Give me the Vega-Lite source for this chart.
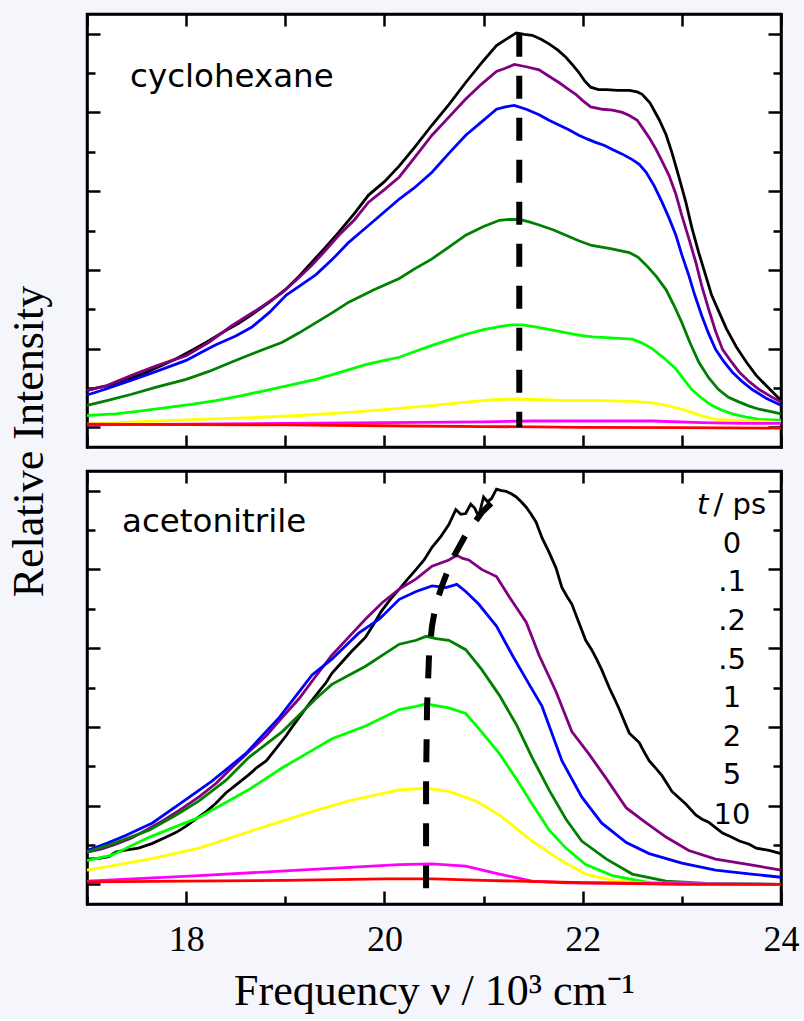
{
  "$schema": "https://vega.github.io/schema/vega-lite/v6.json",
  "background": "#f5f6fc",
  "padding": {"left": 5, "top": 11, "right": 21, "bottom": 4},
  "bounds": "flush",
  "spacing": 24,
  "config": {
    "view": {"stroke": "black", "strokeWidth": 2.5, "fill": "white"},
    "axis": {"domainColor": "black", "domainWidth": 2.5, "domainCap": "square", "tickColor": "black", "tickWidth": 2.5, "grid": false, "labelFont": "Liberation Serif", "labelColor": "black", "titleFont": "Liberation Serif", "titleColor": "black", "titleFontWeight": "normal", "labelOverlap": false, "labelFlush": false}
  },
  "datasets": {
    "cyc": [
      {"t":"0","x":17.0,"y":0.47},{"t":"0","x":17.1,"y":0.5},{"t":"0","x":17.22,"y":0.53},{"t":"0","x":17.33,"y":0.58},{"t":"0","x":17.45,"y":0.63},{"t":"0","x":17.6,"y":0.7},{"t":"0","x":17.76,"y":0.79},{"t":"0","x":17.9,"y":0.87},{"t":"0","x":18.06,"y":0.98},{"t":"0","x":18.23,"y":1.1},{"t":"0","x":18.4,"y":1.23},{"t":"0","x":18.53,"y":1.32},{"t":"0","x":18.66,"y":1.43},{"t":"0","x":18.83,"y":1.58},{"t":"0","x":19.01,"y":1.76},{"t":"0","x":19.14,"y":1.92},{"t":"0","x":19.27,"y":2.1},{"t":"0","x":19.4,"y":2.28},{"t":"0","x":19.54,"y":2.48},{"t":"0","x":19.7,"y":2.72},{"t":"0","x":19.84,"y":2.95},{"t":"0","x":20.0,"y":3.12},{"t":"0","x":20.15,"y":3.32},{"t":"0","x":20.3,"y":3.55},{"t":"0","x":20.48,"y":3.84},{"t":"0","x":20.65,"y":4.1},{"t":"0","x":20.82,"y":4.38},{"t":"0","x":20.98,"y":4.63},{"t":"0","x":21.13,"y":4.85},{"t":"0","x":21.23,"y":4.93},{"t":"0","x":21.33,"y":5.01},{"t":"0","x":21.41,"y":4.99},{"t":"0","x":21.49,"y":4.98},{"t":"0","x":21.58,"y":4.93},{"t":"0","x":21.66,"y":4.87},{"t":"0","x":21.75,"y":4.79},{"t":"0","x":21.83,"y":4.7},{"t":"0","x":21.9,"y":4.6},{"t":"0","x":21.96,"y":4.51},{"t":"0","x":22.02,"y":4.4},{"t":"0","x":22.08,"y":4.32},{"t":"0","x":22.16,"y":4.29},{"t":"0","x":22.24,"y":4.29},{"t":"0","x":22.35,"y":4.28},{"t":"0","x":22.47,"y":4.28},{"t":"0","x":22.55,"y":4.26},{"t":"0","x":22.6,"y":4.23},{"t":"0","x":22.68,"y":4.12},{"t":"0","x":22.77,"y":3.91},{"t":"0","x":22.84,"y":3.72},{"t":"0","x":22.9,"y":3.49},{"t":"0","x":22.97,"y":3.18},{"t":"0","x":23.04,"y":2.86},{"t":"0","x":23.1,"y":2.54},{"t":"0","x":23.17,"y":2.22},{"t":"0","x":23.24,"y":1.93},{"t":"0","x":23.3,"y":1.68},{"t":"0","x":23.38,"y":1.45},{"t":"0","x":23.45,"y":1.25},{"t":"0","x":23.55,"y":1.02},{"t":"0","x":23.65,"y":0.83},{"t":"0","x":23.75,"y":0.66},{"t":"0","x":23.85,"y":0.53},{"t":"0","x":23.93,"y":0.43},{"t":"0","x":24.0,"y":0.34},
      {"t":".1","x":17.0,"y":0.47},{"t":".1","x":17.2,"y":0.53},{"t":".1","x":17.45,"y":0.66},{"t":".1","x":17.7,"y":0.78},{"t":".1","x":18.0,"y":0.91},{"t":".1","x":18.23,"y":1.08},{"t":".1","x":18.46,"y":1.29},{"t":".1","x":18.7,"y":1.48},{"t":".1","x":18.97,"y":1.71},{"t":".1","x":19.12,"y":1.88},{"t":".1","x":19.27,"y":2.06},{"t":".1","x":19.4,"y":2.24},{"t":".1","x":19.54,"y":2.44},{"t":".1","x":19.7,"y":2.64},{"t":".1","x":19.84,"y":2.86},{"t":".1","x":20.0,"y":3.02},{"t":".1","x":20.15,"y":3.18},{"t":".1","x":20.3,"y":3.42},{"t":".1","x":20.48,"y":3.71},{"t":".1","x":20.65,"y":3.94},{"t":".1","x":20.82,"y":4.17},{"t":".1","x":20.98,"y":4.36},{"t":".1","x":21.13,"y":4.52},{"t":".1","x":21.22,"y":4.56},{"t":".1","x":21.31,"y":4.61},{"t":".1","x":21.43,"y":4.58},{"t":".1","x":21.56,"y":4.54},{"t":".1","x":21.66,"y":4.46},{"t":".1","x":21.76,"y":4.38},{"t":".1","x":21.85,"y":4.3},{"t":".1","x":21.93,"y":4.23},{"t":".1","x":22.0,"y":4.15},{"t":".1","x":22.08,"y":4.07},{"t":".1","x":22.2,"y":4.04},{"t":".1","x":22.3,"y":4.03},{"t":".1","x":22.4,"y":4.0},{"t":".1","x":22.47,"y":3.96},{"t":".1","x":22.55,"y":3.9},{"t":".1","x":22.6,"y":3.81},{"t":".1","x":22.67,"y":3.68},{"t":".1","x":22.74,"y":3.53},{"t":".1","x":22.8,"y":3.38},{"t":".1","x":22.87,"y":3.2},{"t":".1","x":22.94,"y":2.96},{"t":".1","x":23.0,"y":2.69},{"t":".1","x":23.07,"y":2.4},{"t":".1","x":23.14,"y":2.1},{"t":".1","x":23.2,"y":1.8},{"t":".1","x":23.27,"y":1.5},{"t":".1","x":23.34,"y":1.22},{"t":".1","x":23.41,"y":0.99},{"t":".1","x":23.5,"y":0.83},{"t":".1","x":23.58,"y":0.7},{"t":".1","x":23.68,"y":0.58},{"t":".1","x":23.78,"y":0.48},{"t":".1","x":23.9,"y":0.39},{"t":".1","x":24.0,"y":0.32},
      {"t":".2","x":17.0,"y":0.41},{"t":".2","x":17.2,"y":0.49},{"t":".2","x":17.45,"y":0.6},{"t":".2","x":17.7,"y":0.71},{"t":".2","x":18.0,"y":0.85},{"t":".2","x":18.15,"y":0.95},{"t":".2","x":18.3,"y":1.05},{"t":".2","x":18.5,"y":1.16},{"t":".2","x":18.66,"y":1.27},{"t":".2","x":18.84,"y":1.46},{"t":".2","x":19.01,"y":1.68},{"t":".2","x":19.15,"y":1.8},{"t":".2","x":19.31,"y":1.94},{"t":".2","x":19.48,"y":2.14},{"t":".2","x":19.64,"y":2.35},{"t":".2","x":19.78,"y":2.5},{"t":".2","x":19.91,"y":2.64},{"t":".2","x":20.03,"y":2.77},{"t":".2","x":20.15,"y":2.9},{"t":".2","x":20.3,"y":3.04},{"t":".2","x":20.48,"y":3.24},{"t":".2","x":20.65,"y":3.48},{"t":".2","x":20.82,"y":3.71},{"t":".2","x":20.98,"y":3.88},{"t":".2","x":21.13,"y":4.04},{"t":".2","x":21.22,"y":4.07},{"t":".2","x":21.31,"y":4.09},{"t":".2","x":21.43,"y":4.04},{"t":".2","x":21.56,"y":3.97},{"t":".2","x":21.66,"y":3.9},{"t":".2","x":21.76,"y":3.84},{"t":".2","x":21.86,"y":3.78},{"t":".2","x":21.96,"y":3.71},{"t":".2","x":22.05,"y":3.66},{"t":".2","x":22.13,"y":3.62},{"t":".2","x":22.22,"y":3.58},{"t":".2","x":22.3,"y":3.53},{"t":".2","x":22.4,"y":3.47},{"t":".2","x":22.5,"y":3.4},{"t":".2","x":22.57,"y":3.34},{"t":".2","x":22.64,"y":3.24},{"t":".2","x":22.72,"y":3.07},{"t":".2","x":22.8,"y":2.86},{"t":".2","x":22.87,"y":2.66},{"t":".2","x":22.94,"y":2.44},{"t":".2","x":23.0,"y":2.19},{"t":".2","x":23.07,"y":1.93},{"t":".2","x":23.13,"y":1.68},{"t":".2","x":23.2,"y":1.42},{"t":".2","x":23.27,"y":1.19},{"t":".2","x":23.34,"y":0.99},{"t":".2","x":23.42,"y":0.84},{"t":".2","x":23.51,"y":0.7},{"t":".2","x":23.6,"y":0.59},{"t":".2","x":23.71,"y":0.48},{"t":".2","x":23.85,"y":0.37},{"t":".2","x":24.0,"y":0.28},
      {"t":".5","x":17.0,"y":0.28},{"t":".5","x":17.2,"y":0.34},{"t":".5","x":17.45,"y":0.42},{"t":".5","x":17.7,"y":0.51},{"t":".5","x":18.0,"y":0.61},{"t":".5","x":18.23,"y":0.71},{"t":".5","x":18.46,"y":0.83},{"t":".5","x":18.7,"y":0.95},{"t":".5","x":18.97,"y":1.08},{"t":".5","x":19.14,"y":1.2},{"t":".5","x":19.31,"y":1.33},{"t":".5","x":19.48,"y":1.46},{"t":".5","x":19.64,"y":1.59},{"t":".5","x":19.9,"y":1.75},{"t":".5","x":20.15,"y":1.89},{"t":".5","x":20.3,"y":2.01},{"t":".5","x":20.48,"y":2.14},{"t":".5","x":20.65,"y":2.29},{"t":".5","x":20.82,"y":2.44},{"t":".5","x":21.0,"y":2.55},{"t":".5","x":21.16,"y":2.63},{"t":".5","x":21.26,"y":2.64},{"t":".5","x":21.36,"y":2.64},{"t":".5","x":21.46,"y":2.61},{"t":".5","x":21.56,"y":2.57},{"t":".5","x":21.7,"y":2.51},{"t":".5","x":21.83,"y":2.44},{"t":".5","x":21.96,"y":2.37},{"t":".5","x":22.09,"y":2.31},{"t":".5","x":22.28,"y":2.27},{"t":".5","x":22.47,"y":2.22},{"t":".5","x":22.56,"y":2.16},{"t":".5","x":22.64,"y":2.06},{"t":".5","x":22.74,"y":1.92},{"t":".5","x":22.84,"y":1.75},{"t":".5","x":22.92,"y":1.55},{"t":".5","x":23.0,"y":1.33},{"t":".5","x":23.08,"y":1.08},{"t":".5","x":23.17,"y":0.83},{"t":".5","x":23.27,"y":0.63},{"t":".5","x":23.37,"y":0.48},{"t":".5","x":23.47,"y":0.38},{"t":".5","x":23.58,"y":0.32},{"t":".5","x":23.68,"y":0.27},{"t":".5","x":23.78,"y":0.23},{"t":".5","x":23.9,"y":0.2},{"t":".5","x":24.0,"y":0.17},
      {"t":"1","x":17.0,"y":0.15},{"t":"1","x":17.15,"y":0.16},{"t":"1","x":17.29,"y":0.17},{"t":"1","x":17.55,"y":0.21},{"t":"1","x":17.8,"y":0.25},{"t":"1","x":18.05,"y":0.29},{"t":"1","x":18.3,"y":0.34},{"t":"1","x":18.55,"y":0.4},{"t":"1","x":18.81,"y":0.47},{"t":"1","x":19.06,"y":0.54},{"t":"1","x":19.31,"y":0.61},{"t":"1","x":19.56,"y":0.7},{"t":"1","x":19.82,"y":0.8},{"t":"1","x":20.0,"y":0.85},{"t":"1","x":20.15,"y":0.89},{"t":"1","x":20.3,"y":0.96},{"t":"1","x":20.48,"y":1.04},{"t":"1","x":20.65,"y":1.11},{"t":"1","x":20.82,"y":1.18},{"t":"1","x":21.0,"y":1.24},{"t":"1","x":21.16,"y":1.28},{"t":"1","x":21.28,"y":1.3},{"t":"1","x":21.39,"y":1.3},{"t":"1","x":21.51,"y":1.28},{"t":"1","x":21.63,"y":1.25},{"t":"1","x":21.8,"y":1.21},{"t":"1","x":21.96,"y":1.17},{"t":"1","x":22.1,"y":1.15},{"t":"1","x":22.24,"y":1.14},{"t":"1","x":22.37,"y":1.13},{"t":"1","x":22.5,"y":1.12},{"t":"1","x":22.6,"y":1.07},{"t":"1","x":22.7,"y":1.0},{"t":"1","x":22.82,"y":0.88},{"t":"1","x":22.94,"y":0.74},{"t":"1","x":23.02,"y":0.61},{"t":"1","x":23.1,"y":0.48},{"t":"1","x":23.2,"y":0.37},{"t":"1","x":23.3,"y":0.28},{"t":"1","x":23.4,"y":0.22},{"t":"1","x":23.51,"y":0.17},{"t":"1","x":23.65,"y":0.13},{"t":"1","x":23.78,"y":0.1},{"t":"1","x":24.0,"y":0.09},
      {"t":"2","x":17.0,"y":0.04},{"t":"2","x":17.5,"y":0.07},{"t":"2","x":18.13,"y":0.1},{"t":"2","x":18.6,"y":0.12},{"t":"2","x":19.14,"y":0.15},{"t":"2","x":19.65,"y":0.19},{"t":"2","x":20.15,"y":0.24},{"t":"2","x":20.5,"y":0.28},{"t":"2","x":20.82,"y":0.32},{"t":"2","x":21.1,"y":0.35},{"t":"2","x":21.33,"y":0.36},{"t":"2","x":21.6,"y":0.35},{"t":"2","x":21.83,"y":0.34},{"t":"2","x":22.2,"y":0.34},{"t":"2","x":22.5,"y":0.33},{"t":"2","x":22.7,"y":0.31},{"t":"2","x":22.84,"y":0.28},{"t":"2","x":22.97,"y":0.24},{"t":"2","x":23.1,"y":0.19},{"t":"2","x":23.22,"y":0.14},{"t":"2","x":23.34,"y":0.1},{"t":"2","x":23.5,"y":0.09},{"t":"2","x":23.68,"y":0.08},{"t":"2","x":24.0,"y":0.06},
      {"t":"5","x":17.0,"y":0.03},{"t":"5","x":18.0,"y":0.04},{"t":"5","x":19.0,"y":0.05},{"t":"5","x":20.0,"y":0.06},{"t":"5","x":21.0,"y":0.07},{"t":"5","x":21.5,"y":0.08},{"t":"5","x":22.0,"y":0.08},{"t":"5","x":22.7,"y":0.08},{"t":"5","x":23.2,"y":0.06},{"t":"5","x":23.6,"y":0.05},{"t":"5","x":24.0,"y":0.05},
      {"t":"10","x":17.0,"y":0.04},{"t":"10","x":18.0,"y":0.035},{"t":"10","x":19.0,"y":0.03},{"t":"10","x":20.0,"y":0.02},{"t":"10","x":21.0,"y":0.01},{"t":"10","x":22.0,"y":0.0},{"t":"10","x":23.0,"y":-0.005},{"t":"10","x":24.0,"y":-0.01}
    ],
    "acn": [
      {"t":"0","x":17.0,"y":0.32},{"t":"0","x":17.12,"y":0.33},{"t":"0","x":17.22,"y":0.35},{"t":"0","x":17.29,"y":0.41},{"t":"0","x":17.37,"y":0.43},{"t":"0","x":17.52,"y":0.46},{"t":"0","x":17.66,"y":0.52},{"t":"0","x":17.8,"y":0.6},{"t":"0","x":17.9,"y":0.66},{"t":"0","x":18.0,"y":0.74},{"t":"0","x":18.1,"y":0.83},{"t":"0","x":18.2,"y":0.92},{"t":"0","x":18.3,"y":1.03},{"t":"0","x":18.4,"y":1.16},{"t":"0","x":18.51,"y":1.27},{"t":"0","x":18.63,"y":1.39},{"t":"0","x":18.71,"y":1.48},{"t":"0","x":18.81,"y":1.57},{"t":"0","x":18.91,"y":1.73},{"t":"0","x":19.01,"y":1.89},{"t":"0","x":19.07,"y":2.0},{"t":"0","x":19.14,"y":2.12},{"t":"0","x":19.24,"y":2.29},{"t":"0","x":19.34,"y":2.45},{"t":"0","x":19.41,"y":2.56},{"t":"0","x":19.47,"y":2.68},{"t":"0","x":19.57,"y":2.82},{"t":"0","x":19.67,"y":2.96},{"t":"0","x":19.74,"y":3.05},{"t":"0","x":19.81,"y":3.14},{"t":"0","x":19.89,"y":3.3},{"t":"0","x":19.97,"y":3.47},{"t":"0","x":20.06,"y":3.62},{"t":"0","x":20.15,"y":3.75},{"t":"0","x":20.23,"y":3.87},{"t":"0","x":20.32,"y":4.0},{"t":"0","x":20.4,"y":4.12},{"t":"0","x":20.48,"y":4.28},{"t":"0","x":20.57,"y":4.42},{"t":"0","x":20.65,"y":4.57},{"t":"0","x":20.72,"y":4.76},{"t":"0","x":20.77,"y":4.7},{"t":"0","x":20.82,"y":4.71},{"t":"0","x":20.87,"y":4.83},{"t":"0","x":20.91,"y":4.78},{"t":"0","x":20.95,"y":4.67},{"t":"0","x":21.0,"y":4.92},{"t":"0","x":21.04,"y":4.86},{"t":"0","x":21.08,"y":4.9},{"t":"0","x":21.13,"y":5.02},{"t":"0","x":21.18,"y":5.0},{"t":"0","x":21.23,"y":4.99},{"t":"0","x":21.28,"y":4.96},{"t":"0","x":21.33,"y":4.92},{"t":"0","x":21.38,"y":4.86},{"t":"0","x":21.43,"y":4.79},{"t":"0","x":21.48,"y":4.7},{"t":"0","x":21.53,"y":4.6},{"t":"0","x":21.59,"y":4.4},{"t":"0","x":21.66,"y":4.22},{"t":"0","x":21.73,"y":4.02},{"t":"0","x":21.79,"y":3.77},{"t":"0","x":21.84,"y":3.66},{"t":"0","x":21.89,"y":3.56},{"t":"0","x":21.96,"y":3.33},{"t":"0","x":22.03,"y":3.1},{"t":"0","x":22.09,"y":2.98},{"t":"0","x":22.14,"y":2.86},{"t":"0","x":22.19,"y":2.73},{"t":"0","x":22.27,"y":2.49},{"t":"0","x":22.32,"y":2.36},{"t":"0","x":22.37,"y":2.22},{"t":"0","x":22.42,"y":2.07},{"t":"0","x":22.47,"y":1.92},{"t":"0","x":22.57,"y":1.8},{"t":"0","x":22.62,"y":1.68},{"t":"0","x":22.67,"y":1.57},{"t":"0","x":22.74,"y":1.47},{"t":"0","x":22.8,"y":1.38},{"t":"0","x":22.9,"y":1.18},{"t":"0","x":22.97,"y":1.1},{"t":"0","x":23.04,"y":1.02},{"t":"0","x":23.14,"y":0.88},{"t":"0","x":23.2,"y":0.83},{"t":"0","x":23.27,"y":0.79},{"t":"0","x":23.34,"y":0.72},{"t":"0","x":23.41,"y":0.65},{"t":"0","x":23.5,"y":0.6},{"t":"0","x":23.58,"y":0.55},{"t":"0","x":23.68,"y":0.51},{"t":"0","x":23.75,"y":0.46},{"t":"0","x":23.88,"y":0.43},{"t":"0","x":24.0,"y":0.39},
      {"t":".1","x":17.0,"y":0.41},{"t":".1","x":17.15,"y":0.45},{"t":".1","x":17.29,"y":0.51},{"t":".1","x":17.45,"y":0.59},{"t":".1","x":17.6,"y":0.69},{"t":".1","x":17.77,"y":0.81},{"t":".1","x":17.93,"y":0.94},{"t":".1","x":18.13,"y":1.11},{"t":".1","x":18.3,"y":1.28},{"t":".1","x":18.46,"y":1.48},{"t":".1","x":18.63,"y":1.68},{"t":".1","x":18.81,"y":1.89},{"t":".1","x":18.97,"y":2.12},{"t":".1","x":19.14,"y":2.36},{"t":".1","x":19.3,"y":2.63},{"t":".1","x":19.47,"y":2.91},{"t":".1","x":19.64,"y":3.14},{"t":".1","x":19.81,"y":3.37},{"t":".1","x":19.98,"y":3.58},{"t":".1","x":20.15,"y":3.75},{"t":".1","x":20.32,"y":3.88},{"t":".1","x":20.48,"y":4.04},{"t":".1","x":20.65,"y":4.12},{"t":".1","x":20.73,"y":4.18},{"t":".1","x":20.79,"y":4.14},{"t":".1","x":20.85,"y":4.12},{"t":".1","x":20.98,"y":4.0},{"t":".1","x":21.13,"y":3.91},{"t":".1","x":21.26,"y":3.65},{"t":".1","x":21.43,"y":3.33},{"t":".1","x":21.56,"y":2.91},{"t":".1","x":21.73,"y":2.45},{"t":".1","x":21.89,"y":1.94},{"t":".1","x":22.06,"y":1.66},{"t":".1","x":22.24,"y":1.34},{"t":".1","x":22.44,"y":0.97},{"t":".1","x":22.64,"y":0.78},{"t":".1","x":22.84,"y":0.6},{"t":".1","x":23.07,"y":0.43},{"t":".1","x":23.34,"y":0.32},{"t":".1","x":23.68,"y":0.25},{"t":".1","x":24.0,"y":0.18},
      {"t":".2","x":17.0,"y":0.43},{"t":".2","x":17.2,"y":0.52},{"t":".2","x":17.39,"y":0.62},{"t":".2","x":17.66,"y":0.78},{"t":".2","x":18.0,"y":1.08},{"t":".2","x":18.26,"y":1.31},{"t":".2","x":18.6,"y":1.66},{"t":".2","x":18.94,"y":2.12},{"t":".2","x":19.1,"y":2.38},{"t":".2","x":19.27,"y":2.66},{"t":".2","x":19.47,"y":2.86},{"t":".2","x":19.74,"y":3.19},{"t":".2","x":19.95,"y":3.37},{"t":".2","x":20.15,"y":3.62},{"t":".2","x":20.32,"y":3.72},{"t":".2","x":20.48,"y":3.79},{"t":".2","x":20.62,"y":3.77},{"t":".2","x":20.73,"y":3.81},{"t":".2","x":20.82,"y":3.72},{"t":".2","x":20.95,"y":3.56},{"t":".2","x":21.13,"y":3.28},{"t":".2","x":21.29,"y":2.91},{"t":".2","x":21.46,"y":2.54},{"t":".2","x":21.59,"y":2.26},{"t":".2","x":21.79,"y":1.57},{"t":".2","x":21.99,"y":1.11},{"t":".2","x":22.19,"y":0.78},{"t":".2","x":22.44,"y":0.53},{"t":".2","x":22.67,"y":0.39},{"t":".2","x":23.0,"y":0.27},{"t":".2","x":23.34,"y":0.18},{"t":".2","x":23.7,"y":0.13},{"t":".2","x":24.0,"y":0.09},
      {"t":".5","x":17.0,"y":0.41},{"t":".5","x":17.29,"y":0.53},{"t":".5","x":17.63,"y":0.69},{"t":".5","x":17.9,"y":0.88},{"t":".5","x":18.13,"y":1.06},{"t":".5","x":18.4,"y":1.32},{"t":".5","x":18.63,"y":1.61},{"t":".5","x":18.97,"y":1.94},{"t":".5","x":19.31,"y":2.36},{"t":".5","x":19.47,"y":2.54},{"t":".5","x":19.81,"y":2.77},{"t":".5","x":20.15,"y":3.05},{"t":".5","x":20.32,"y":3.1},{"t":".5","x":20.42,"y":3.15},{"t":".5","x":20.52,"y":3.12},{"t":".5","x":20.65,"y":3.1},{"t":".5","x":20.82,"y":2.98},{"t":".5","x":20.98,"y":2.73},{"t":".5","x":21.16,"y":2.4},{"t":".5","x":21.33,"y":2.03},{"t":".5","x":21.49,"y":1.61},{"t":".5","x":21.66,"y":1.2},{"t":".5","x":21.83,"y":0.83},{"t":".5","x":21.99,"y":0.55},{"t":".5","x":22.24,"y":0.32},{"t":".5","x":22.5,"y":0.13},{"t":".5","x":22.84,"y":0.04},{"t":".5","x":23.3,"y":0.01},{"t":".5","x":24.0,"y":0.0},
      {"t":"1","x":17.0,"y":0.3},{"t":"1","x":17.25,"y":0.37},{"t":"1","x":17.63,"y":0.6},{"t":"1","x":18.13,"y":0.85},{"t":"1","x":18.63,"y":1.2},{"t":"1","x":18.97,"y":1.48},{"t":"1","x":19.31,"y":1.73},{"t":"1","x":19.47,"y":1.85},{"t":"1","x":19.81,"y":2.01},{"t":"1","x":20.15,"y":2.22},{"t":"1","x":20.32,"y":2.26},{"t":"1","x":20.42,"y":2.29},{"t":"1","x":20.65,"y":2.24},{"t":"1","x":20.82,"y":2.17},{"t":"1","x":20.95,"y":1.98},{"t":"1","x":21.16,"y":1.66},{"t":"1","x":21.33,"y":1.34},{"t":"1","x":21.49,"y":1.02},{"t":"1","x":21.66,"y":0.69},{"t":"1","x":21.83,"y":0.46},{"t":"1","x":22.03,"y":0.25},{"t":"1","x":22.3,"y":0.11},{"t":"1","x":22.67,"y":0.02},{"t":"1","x":24.0,"y":0.0},
      {"t":"2","x":17.0,"y":0.18},{"t":"2","x":17.63,"y":0.32},{"t":"2","x":18.13,"y":0.46},{"t":"2","x":18.81,"y":0.74},{"t":"2","x":19.31,"y":0.94},{"t":"2","x":19.64,"y":1.06},{"t":"2","x":20.15,"y":1.2},{"t":"2","x":20.42,"y":1.22},{"t":"2","x":20.65,"y":1.18},{"t":"2","x":20.92,"y":1.06},{"t":"2","x":21.16,"y":0.88},{"t":"2","x":21.49,"y":0.55},{"t":"2","x":21.76,"y":0.32},{"t":"2","x":22.03,"y":0.13},{"t":"2","x":22.34,"y":0.04},{"t":"2","x":22.84,"y":0.0},{"t":"2","x":24.0,"y":0.0},
      {"t":"5","x":17.0,"y":0.04},{"t":"5","x":18.13,"y":0.11},{"t":"5","x":19.14,"y":0.18},{"t":"5","x":20.15,"y":0.25},{"t":"5","x":20.48,"y":0.26},{"t":"5","x":20.82,"y":0.23},{"t":"5","x":21.16,"y":0.13},{"t":"5","x":21.49,"y":0.04},{"t":"5","x":21.83,"y":0.02},{"t":"5","x":24.0,"y":0.0},
      {"t":"10","x":17.0,"y":0.03},{"t":"10","x":18.0,"y":0.04},{"t":"10","x":19.0,"y":0.05},{"t":"10","x":20.0,"y":0.07},{"t":"10","x":20.5,"y":0.07},{"t":"10","x":21.0,"y":0.05},{"t":"10","x":22.0,"y":0.02},{"t":"10","x":23.0,"y":0.0},{"t":"10","x":24.0,"y":0.0}
    ],
    "dashTop": [{"k":0,"x":21.36,"y":5.0},{"k":1,"x":21.36,"y":0.0}],
    "dashBot": [{"k":0,"x":20.42,"y":-0.05},{"k":1,"x":20.42,"y":1.34},{"k":2,"x":20.43,"y":2.26},{"k":3,"x":20.45,"y":2.91},{"k":4,"x":20.48,"y":3.28},{"k":5,"x":20.52,"y":3.56},{"k":6,"x":20.58,"y":3.79},{"k":7,"x":20.68,"y":4.12},{"k":8,"x":20.82,"y":4.44},{"k":9,"x":20.98,"y":4.72},{"k":10,"x":21.14,"y":4.92}],
    "legend": [{"x":23.506,"y":4.21,"s":"0"},{"x":23.506,"y":3.72,"s":".1"},{"x":23.506,"y":3.23,"s":".2"},{"x":23.506,"y":2.74,"s":".5"},{"x":23.506,"y":2.25,"s":"1"},{"x":23.506,"y":1.76,"s":"2"},{"x":23.506,"y":1.27,"s":"5"},{"x":23.506,"y":0.77,"s":"10"}]
  },
  "vconcat": [
    {
      "width": 694, "height": 433,
      "layer": [
        {
          "data": {"name": "cyc"},
          "mark": {"type": "line", "strokeWidth": 2.8},
          "encoding": {
            "x": {"field": "x", "type": "quantitative", "scale": {"domain": [17, 24], "nice": false, "zero": false},
              "axis": {"orient": "bottom", "values": [17,18,19,20,21,22,23,24], "labels": false, "title": null, "tickSize": -12}},
            "y": {"field": "y", "type": "quantitative", "scale": {"domain": [-0.25, 5.25], "nice": false, "zero": false},
              "axis": {"orient": "left", "values": [0,0.5,1,1.5,2,2.5,3,3.5,4,4.5,5], "labels": false,
                "tickSize": {"condition": {"test": "datum.value % 1 === 0", "value": -13}, "value": -8},
                "title": "Relative Intensity", "titleFontSize": 44, "titleX": -45, "titleY": 427, "titleAngle": 270, "titleBaseline": "alphabetic", "titleAlign": "center"}},
            "color": {"field": "t", "type": "nominal", "legend": null,
              "scale": {"domain": ["0",".1",".2",".5","1","2","5","10"], "range": ["#000000","#800080","#0000ff","#007f00","#00ff00","#ffff00","#ff00ff","#ff0000"]}}
          }
        },
        {
          "data": {"name": "dashTop"},
          "mark": {"type": "line", "color": "black", "strokeWidth": 6, "strokeDash": [23, 19], "strokeCap": "butt"},
          "encoding": {
            "x": {"field": "x", "type": "quantitative", "scale": {"domain": [17, 24], "nice": false, "zero": false},
              "axis": {"orient": "top", "values": [17,18,19,20,21,22,23,24], "labels": false, "title": null, "tickSize": -12}},
            "y": {"field": "y", "type": "quantitative", "scale": {"domain": [-0.25, 5.25], "nice": false, "zero": false},
              "axis": {"orient": "right", "values": [0,0.5,1,1.5,2,2.5,3,3.5,4,4.5,5], "labels": false, "title": null,
                "tickSize": {"condition": {"test": "datum.value % 1 === 0", "value": -13}, "value": -8}}},
            "order": {"field": "k", "type": "quantitative"}
          }
        },
        {
          "data": {"values": [{"x": 17.434, "y": 4.32, "s": "cyclohexane"}]},
          "mark": {"type": "text", "align": "left", "baseline": "alphabetic", "font": "DejaVu Sans", "fontSize": 32.5, "color": "black"},
          "encoding": {
            "x": {"field": "x", "type": "quantitative", "scale": {"domain": [17, 24], "nice": false, "zero": false}, "axis": null},
            "y": {"field": "y", "type": "quantitative", "scale": {"domain": [-0.25, 5.25], "nice": false, "zero": false}, "axis": null},
            "text": {"field": "s"}
          }
        }
      ],
      "resolve": {"axis": {"x": "independent", "y": "independent"}}
    },
    {
      "width": 694, "height": 433,
      "layer": [
        {
          "data": {"name": "acn"},
          "mark": {"type": "line", "strokeWidth": 2.8},
          "encoding": {
            "x": {"field": "x", "type": "quantitative", "scale": {"domain": [17, 24], "nice": false, "zero": false},
              "axis": {"orient": "bottom", "values": [17,18,19,20,21,22,23,24],
                "labelExpr": "datum.value % 2 === 0 && datum.value > 17 ? datum.label : ''",
                "labelFontSize": 36, "labelPadding": 31,
                "tickSize": {"condition": {"test": "datum.value % 2 === 0", "value": -13}, "value": -8},
                "title": "Frequency  ν / 10³ cm⁻¹", "titleFontSize": 44, "titlePadding": 7}},
            "y": {"field": "y", "type": "quantitative", "scale": {"domain": [-0.25, 5.25], "nice": false, "zero": false},
              "axis": {"orient": "left", "values": [0,0.5,1,1.5,2,2.5,3,3.5,4,4.5,5], "labels": false, "title": null,
                "tickSize": {"condition": {"test": "datum.value % 1 === 0", "value": -13}, "value": -8}}},
            "color": {"field": "t", "type": "nominal", "legend": null,
              "scale": {"domain": ["0",".1",".2",".5","1","2","5","10"], "range": ["#000000","#800080","#0000ff","#007f00","#00ff00","#ffff00","#ff00ff","#ff0000"]}}
          }
        },
        {
          "data": {"name": "dashBot"},
          "mark": {"type": "line", "color": "black", "strokeWidth": 6, "strokeDash": [23, 19], "strokeCap": "butt"},
          "encoding": {
            "x": {"field": "x", "type": "quantitative", "scale": {"domain": [17, 24], "nice": false, "zero": false},
              "axis": {"orient": "top", "values": [17,18,19,20,21,22,23,24], "labels": false, "title": null, "tickSize": -12}},
            "y": {"field": "y", "type": "quantitative", "scale": {"domain": [-0.25, 5.25], "nice": false, "zero": false},
              "axis": {"orient": "right", "values": [0,0.5,1,1.5,2,2.5,3,3.5,4,4.5,5], "labels": false, "title": null,
                "tickSize": {"condition": {"test": "datum.value % 1 === 0", "value": -13}, "value": -8}}},
            "order": {"field": "k", "type": "quantitative"}
          }
        },
        {
          "data": {"values": [{"x": 17.353, "y": 4.47, "s": "acetonitrile"}]},
          "mark": {"type": "text", "align": "left", "baseline": "alphabetic", "font": "DejaVu Sans", "fontSize": 32.5, "color": "black"},
          "encoding": {
            "x": {"field": "x", "type": "quantitative", "scale": {"domain": [17, 24], "nice": false, "zero": false}, "axis": null},
            "y": {"field": "y", "type": "quantitative", "scale": {"domain": [-0.25, 5.25], "nice": false, "zero": false}, "axis": null},
            "text": {"field": "s"}
          }
        },
        {
          "data": {"name": "legend"},
          "mark": {"type": "text", "align": "center", "baseline": "alphabetic", "font": "DejaVu Sans", "fontSize": 29, "color": "black"},
          "encoding": {
            "x": {"field": "x", "type": "quantitative", "scale": {"domain": [17, 24], "nice": false, "zero": false}, "axis": null},
            "y": {"field": "y", "type": "quantitative", "scale": {"domain": [-0.25, 5.25], "nice": false, "zero": false}, "axis": null},
            "text": {"field": "s"}
          }
        },
        {
          "data": {"values": [{"x": 23.153, "y": 4.7, "s": "t"}]},
          "mark": {"type": "text", "align": "left", "baseline": "alphabetic", "font": "DejaVu Sans", "fontSize": 29, "fontStyle": "italic", "color": "black"},
          "encoding": {
            "x": {"field": "x", "type": "quantitative", "scale": {"domain": [17, 24], "nice": false, "zero": false}, "axis": null},
            "y": {"field": "y", "type": "quantitative", "scale": {"domain": [-0.25, 5.25], "nice": false, "zero": false}, "axis": null},
            "text": {"field": "s"}
          }
        },
        {
          "data": {"values": [{"x": 23.32, "y": 4.7, "s": "/ ps"}]},
          "mark": {"type": "text", "align": "left", "baseline": "alphabetic", "font": "DejaVu Sans", "fontSize": 29, "color": "black"},
          "encoding": {
            "x": {"field": "x", "type": "quantitative", "scale": {"domain": [17, 24], "nice": false, "zero": false}, "axis": null},
            "y": {"field": "y", "type": "quantitative", "scale": {"domain": [-0.25, 5.25], "nice": false, "zero": false}, "axis": null},
            "text": {"field": "s"}
          }
        }
      ],
      "resolve": {"axis": {"x": "independent", "y": "independent"}}
    }
  ]
}
